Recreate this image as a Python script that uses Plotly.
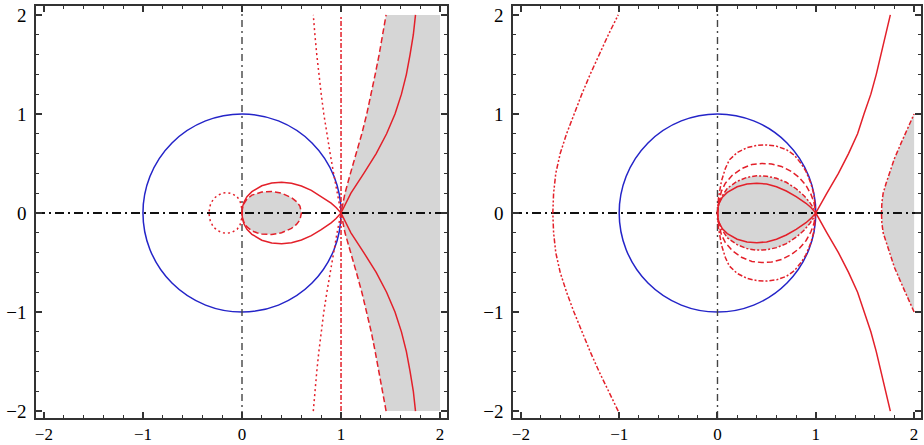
import plotly.graph_objects as go
from plotly.subplots import make_subplots

# ---------------- data ----------------
# y levels used by the open branches (upper half; lower half mirrors)
branch_y = [0, 0.2, 0.4, 0.6, 0.8, 1.0, 1.2, 1.4, 1.6, 1.8, 2.0]

# Left panel
L_solid_loop_x = [0, 0.005, 0.02, 0.05, 0.1, 0.2, 0.3, 0.4, 0.5, 0.6, 0.7, 0.8, 0.9, 0.95, 1.0]
L_solid_loop_y = [0, 0.06, 0.11, 0.165, 0.215, 0.275, 0.303, 0.31, 0.3, 0.272, 0.228, 0.168, 0.1, 0.056, 0]
L_solid_branch_x = [1, 1.1, 1.23, 1.355, 1.46, 1.545, 1.61, 1.66, 1.697, 1.73, 1.752]
L_dashed_oval_x = [0, 0.005, 0.02, 0.05, 0.1, 0.15, 0.2, 0.3, 0.4, 0.5, 0.55, 0.585, 0.6]
L_dashed_oval_y = [0, 0.05, 0.095, 0.14, 0.18, 0.2, 0.212, 0.218, 0.2, 0.155, 0.115, 0.07, 0]
L_dashed_branch_x = [1, 1.04, 1.095, 1.155, 1.21, 1.26, 1.305, 1.345, 1.385, 1.42, 1.455]
L_dotted_oval_x = [0, -0.005, -0.02, -0.05, -0.1, -0.15, -0.2, -0.25, -0.29, -0.32, -0.335]
L_dotted_oval_y = [0, 0.06, 0.12, 0.165, 0.195, 0.205, 0.2, 0.175, 0.14, 0.08, 0]
L_dotted_branch_x = [1, 0.96, 0.925, 0.89, 0.857, 0.826, 0.8, 0.776, 0.755, 0.736, 0.72]
L_dashdot_line_x = [1, 1]
L_dashdot_line_y = [-2, 2]
fill_edge_x = 2.0

# Right panel
R_solid_loop_x = [0, 0.005, 0.02, 0.05, 0.1, 0.2, 0.3, 0.4, 0.5, 0.6, 0.7, 0.8, 0.9, 0.95, 1.0]
R_solid_loop_y = [0, 0.06, 0.105, 0.16, 0.208, 0.265, 0.292, 0.3, 0.292, 0.265, 0.222, 0.165, 0.098, 0.055, 0]
R_solid_branch_x = [1, 1.113, 1.23, 1.333, 1.425, 1.49, 1.56, 1.615, 1.665, 1.712, 1.758]
R_inner_dd_x = [0, 0.01, 0.04, 0.1, 0.2, 0.3, 0.4, 0.5, 0.6, 0.7, 0.8, 0.88, 0.94, 0.98, 1.0]
R_inner_dd_y = [0, 0.08, 0.16, 0.25, 0.32, 0.36, 0.375, 0.372, 0.35, 0.31, 0.245, 0.175, 0.105, 0.045, 0]
R_dashed_x = [0, 0.01, 0.04, 0.08, 0.15, 0.25, 0.35, 0.45, 0.55, 0.65, 0.75, 0.83, 0.9, 0.95, 0.98, 1.0]
R_dashed_y = [0, 0.1, 0.22, 0.3, 0.38, 0.45, 0.49, 0.5, 0.495, 0.47, 0.42, 0.36, 0.28, 0.19, 0.11, 0]
R_outer_dd_x = [0, 0.01, 0.04, 0.08, 0.12, 0.2, 0.3, 0.4, 0.5, 0.6, 0.7, 0.78, 0.85, 0.9, 0.95, 0.98, 1.0]
R_outer_dd_y = [0, 0.15, 0.32, 0.45, 0.535, 0.61, 0.66, 0.683, 0.687, 0.675, 0.64, 0.585, 0.5, 0.42, 0.3, 0.19, 0]
R_far_left_x = [-1.675, -1.667, -1.645, -1.6, -1.535, -1.46, -1.38, -1.295, -1.205, -1.11, -1.01]
R_far_right_x = [1.668, 1.672, 1.685, 1.715, 1.75, 1.80, 1.865, 1.93, 2.0]
R_far_right_y = [0, 0.1, 0.2, 0.3, 0.4, 0.55, 0.7, 0.85, 1.0]

# axes lines and unit circle
axis_span = [-2.08, 2.07]
axis_vspan = [-2.07, 2.09]
circle_center = (0.0, 0.0)
circle_radius = 1.0

tick_vals = [-2, -1, 0, 1, 2]

# ---------------- styles ----------------
RED = "#e3202a"
BLUE = "#2424c8"
GRAY = "#d6d6d6"
FRAME = "#333333"


def closed(xu, yu):
    """upper half then mirrored lower half (symmetry of the picture)"""
    xs = list(xu) + list(reversed(xu))[1:]
    ys = list(yu) + [-v for v in reversed(yu)][1:]
    return xs, ys


def branch(xu, yu):
    xs = list(reversed(xu)) + list(xu)[1:]
    ys = [-v for v in reversed(yu)] + list(yu)[1:]
    return xs, ys


fig = make_subplots(rows=1, cols=2, horizontal_spacing=0.05)


def line(x, y, dash, col, width=1.5, color=RED):
    fig.add_trace(go.Scatter(x=x, y=y, mode="lines", hoverinfo="skip",
                             line=dict(color=color, width=width, dash=dash)),
                  row=1, col=col)


def fill(x, y, col):
    fig.add_trace(go.Scatter(x=x, y=y, mode="lines", fill="toself", fillcolor=GRAY,
                             line=dict(width=0, color=GRAY), hoverinfo="skip"),
                  row=1, col=col)


# ---- left fills
lx, ly = closed(L_dashed_oval_x, L_dashed_oval_y)
fill(lx, ly, 1)
fx = list(L_dashed_branch_x) + [fill_edge_x, fill_edge_x] + list(reversed(L_dashed_branch_x))
fy = list(branch_y) + [branch_y[-1], -branch_y[-1]] + [-v for v in reversed(branch_y)]
fill(fx, fy, 1)

# ---- right fills
rx, ry = closed(R_inner_dd_x, R_inner_dd_y)
fill(rx, ry, 2)
fx = list(R_far_right_x) + [fill_edge_x] + list(reversed(R_far_right_x))
fy = list(R_far_right_y) + [-R_far_right_y[-1]] + [-v for v in reversed(R_far_right_y)]
fill(fx, fy, 2)

# ---- coordinate axes (dash-dot)
for c in (1, 2):
    line(axis_span, [0, 0], "9px,4px,2px,4px", c, width=2.2, color="#111111")
    line([0, 0], axis_vspan, "7px,4px,2px,4px", c, width=1.4, color="#444444")

# ---- left red curves
x, y = closed(L_solid_loop_x, L_solid_loop_y); line(x, y, "solid", 1)
x, y = branch(L_solid_branch_x, branch_y); line(x, y, "solid", 1)
x, y = closed(L_dashed_oval_x, L_dashed_oval_y); line(x, y, "6px,3px", 1)
x, y = branch(L_dashed_branch_x, branch_y); line(x, y, "6px,3px", 1)
x, y = closed(L_dotted_oval_x, L_dotted_oval_y); line(x, y, "2px,3px", 1)
x, y = branch(L_dotted_branch_x, branch_y); line(x, y, "2px,3px", 1)
line(L_dashdot_line_x, L_dashdot_line_y, "5px,2px,2px,2px", 1)

# ---- right red curves
x, y = closed(R_solid_loop_x, R_solid_loop_y); line(x, y, "solid", 2)
x, y = branch(R_solid_branch_x, branch_y); line(x, y, "solid", 2)
x, y = closed(R_inner_dd_x, R_inner_dd_y); line(x, y, "5px,2px,2px,2px", 2)
x, y = closed(R_dashed_x, R_dashed_y); line(x, y, "6px,3px", 2)
x, y = closed(R_outer_dd_x, R_outer_dd_y); line(x, y, "5px,2px,2px,2px", 2)
x, y = branch(R_far_left_x, branch_y); line(x, y, "5px,2px,2px,2px,2px,2px", 2)
x, y = branch(R_far_right_x, R_far_right_y); line(x, y, "5px,2px,2px,2px", 2)

# ---- unit circles
for xr, yr in (("x", "y"), ("x2", "y2")):
    fig.add_shape(type="circle", xref=xr, yref=yr,
                  x0=circle_center[0] - circle_radius, x1=circle_center[0] + circle_radius,
                  y0=circle_center[1] - circle_radius, y1=circle_center[1] + circle_radius,
                  line=dict(color=BLUE, width=1.5), layer="below")

W, H = 924, 445
axis_common = dict(
    showline=True, linecolor=FRAME, linewidth=1.5, mirror="ticks",
    ticks="inside", ticklen=6, tickwidth=1.5, tickcolor=FRAME,
    tickvals=tick_vals, showgrid=False, zeroline=False, automargin=False,
    tickfont=dict(family="Liberation Serif", size=19, color="black"),
    minor=dict(ticks="inside", ticklen=3, tickwidth=1, tickcolor=FRAME,
               dtick=0.2, tick0=0, showgrid=False),
)
fig.update_xaxes(range=axis_span, **axis_common)
fig.update_yaxes(range=axis_vspan, **axis_common)
fig.update_xaxes(tickfont=dict(family="Liberation Serif", size=17, color="black"))
fig.update_layout(
    template="none", width=W, height=H, showlegend=False,
    margin=dict(l=0, r=0, t=0, b=0),
    paper_bgcolor="white", plot_bgcolor="white",
    xaxis=dict(domain=[36 / W, 447 / W], ticklabelstandoff=0),
    xaxis2=dict(domain=[513 / W, 921 / W], ticklabelstandoff=0),
    yaxis=dict(domain=[1 - 418 / H, 1 - 6 / H], ticklabelstandoff=4),
    yaxis2=dict(domain=[1 - 418 / H, 1 - 6 / H], ticklabelstandoff=4),
)
fig.write_html(
    "out.html",
    config={"displayModeBar": False},
    post_script="document.body.style.margin='0';document.body.style.overflow='hidden';",
)
